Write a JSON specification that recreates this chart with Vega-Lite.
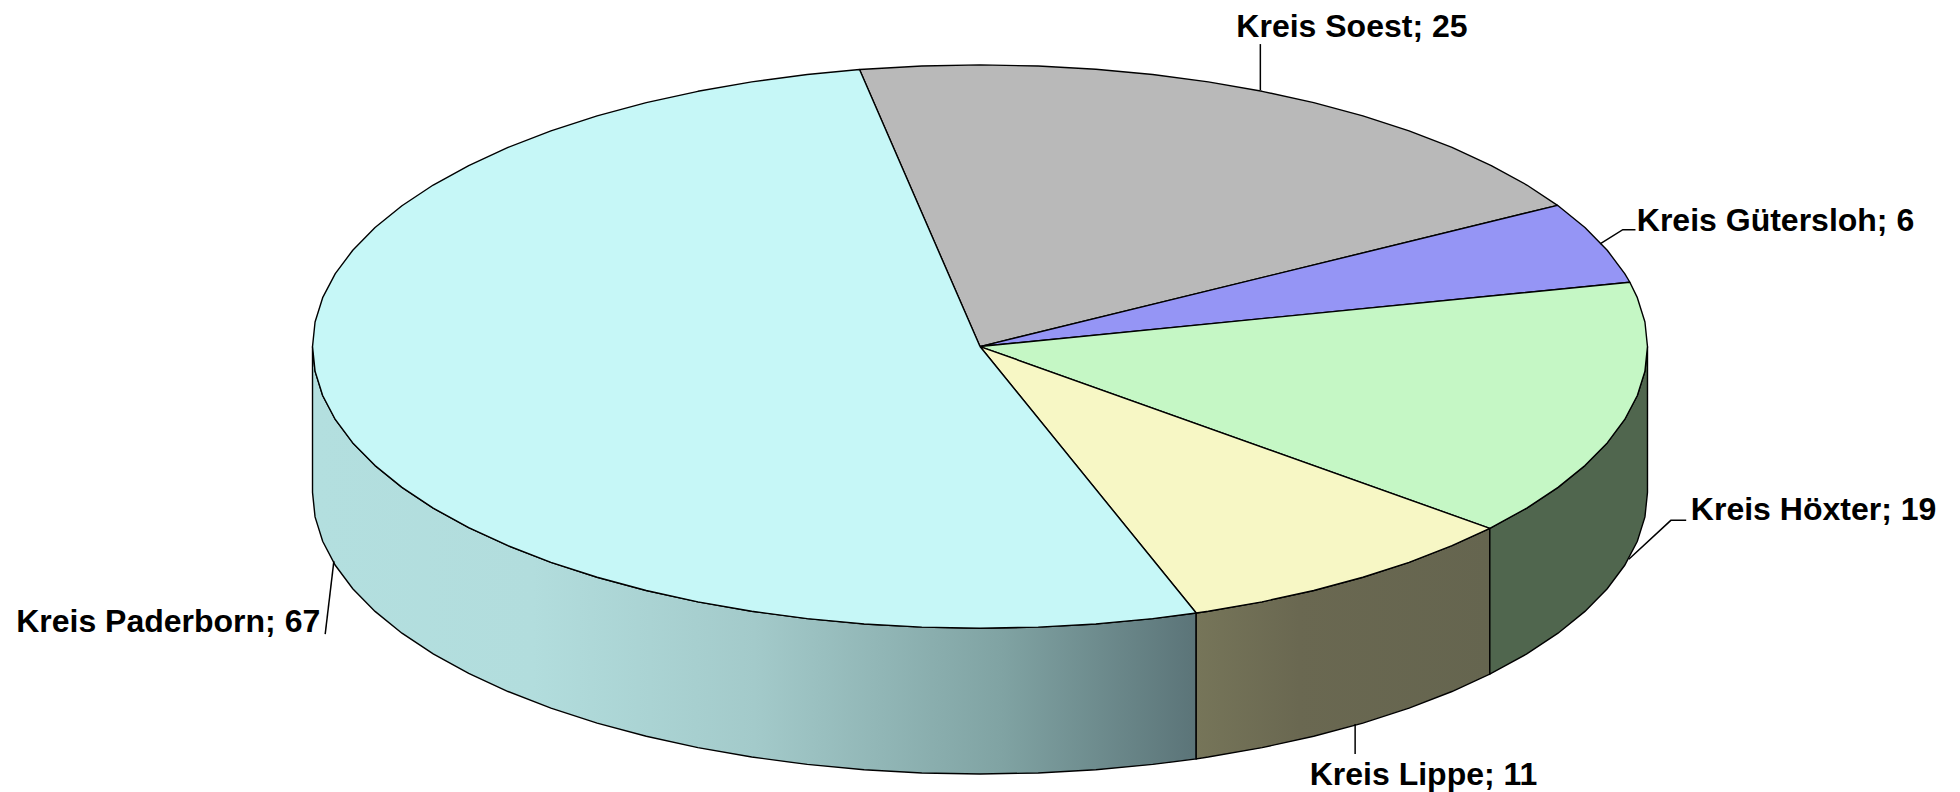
{"$schema":"https://vega.github.io/schema/vega-lite/v6.json","width":1960,"height":792,"padding":0,"autosize":{"type":"fit","contains":"padding"},"background":"white","view":{"stroke":null},
"datasets":{
"faces":[
{"s":"Kreis Soest","o":0,"u":0,"v":0},{"s":"Kreis Soest","o":1,"u":-0.1805,"v":0.9836},{"s":"Kreis Soest","o":2,"u":-0.1736,"v":0.9848},{"s":"Kreis Soest","o":3,"u":-0.0872,"v":0.9962},{"s":"Kreis Soest","o":4,"u":0,"v":1},{"s":"Kreis Soest","o":5,"u":0.0872,"v":0.9962},{"s":"Kreis Soest","o":6,"u":0.1736,"v":0.9848},{"s":"Kreis Soest","o":7,"u":0.2588,"v":0.9659},{"s":"Kreis Soest","o":8,"u":0.342,"v":0.9397},{"s":"Kreis Soest","o":9,"u":0.4226,"v":0.9063},{"s":"Kreis Soest","o":10,"u":0.5,"v":0.866},{"s":"Kreis Soest","o":11,"u":0.5736,"v":0.8192},{"s":"Kreis Soest","o":12,"u":0.6428,"v":0.766},{"s":"Kreis Soest","o":13,"u":0.7071,"v":0.7071},{"s":"Kreis Soest","o":14,"u":0.766,"v":0.6428},{"s":"Kreis Soest","o":15,"u":0.8192,"v":0.5736},{"s":"Kreis Soest","o":16,"u":0.8652,"v":0.5015},{"s":"Kreis Soest","o":17,"u":0,"v":0},
{"s":"Kreis Gütersloh","o":0,"u":0,"v":0},{"s":"Kreis Gütersloh","o":1,"u":0.8652,"v":0.5015},{"s":"Kreis Gütersloh","o":2,"u":0.9063,"v":0.4226},{"s":"Kreis Gütersloh","o":3,"u":0.9397,"v":0.342},{"s":"Kreis Gütersloh","o":4,"u":0.9659,"v":0.2588},{"s":"Kreis Gütersloh","o":5,"u":0.9736,"v":0.2284},{"s":"Kreis Gütersloh","o":6,"u":0,"v":0},
{"s":"Kreis Höxter","o":0,"u":0,"v":0},{"s":"Kreis Höxter","o":1,"u":0.9736,"v":0.2284},{"s":"Kreis Höxter","o":2,"u":0.9848,"v":0.1736},{"s":"Kreis Höxter","o":3,"u":0.9962,"v":0.0872},{"s":"Kreis Höxter","o":4,"u":1,"v":0},{"s":"Kreis Höxter","o":5,"u":0.9962,"v":-0.0872},{"s":"Kreis Höxter","o":6,"u":0.9848,"v":-0.1736},{"s":"Kreis Höxter","o":7,"u":0.9659,"v":-0.2588},{"s":"Kreis Höxter","o":8,"u":0.9397,"v":-0.342},{"s":"Kreis Höxter","o":9,"u":0.9063,"v":-0.4226},{"s":"Kreis Höxter","o":10,"u":0.866,"v":-0.5},{"s":"Kreis Höxter","o":11,"u":0.8192,"v":-0.5736},{"s":"Kreis Höxter","o":12,"u":0.7638,"v":-0.6455},{"s":"Kreis Höxter","o":13,"u":0,"v":0},
{"s":"Kreis Lippe","o":0,"u":0,"v":0},{"s":"Kreis Lippe","o":1,"u":0.7638,"v":-0.6455},{"s":"Kreis Lippe","o":2,"u":0.7071,"v":-0.7071},{"s":"Kreis Lippe","o":3,"u":0.6428,"v":-0.766},{"s":"Kreis Lippe","o":4,"u":0.5736,"v":-0.8192},{"s":"Kreis Lippe","o":5,"u":0.5,"v":-0.866},{"s":"Kreis Lippe","o":6,"u":0.4226,"v":-0.9063},{"s":"Kreis Lippe","o":7,"u":0.342,"v":-0.9397},{"s":"Kreis Lippe","o":8,"u":0.3239,"v":-0.9461},{"s":"Kreis Lippe","o":9,"u":0,"v":0},
{"s":"Kreis Paderborn","o":0,"u":0,"v":0},{"s":"Kreis Paderborn","o":1,"u":0.3239,"v":-0.9461},{"s":"Kreis Paderborn","o":2,"u":0.2588,"v":-0.9659},{"s":"Kreis Paderborn","o":3,"u":0.1736,"v":-0.9848},{"s":"Kreis Paderborn","o":4,"u":0.0872,"v":-0.9962},{"s":"Kreis Paderborn","o":5,"u":0,"v":-1},{"s":"Kreis Paderborn","o":6,"u":-0.0872,"v":-0.9962},{"s":"Kreis Paderborn","o":7,"u":-0.1736,"v":-0.9848},{"s":"Kreis Paderborn","o":8,"u":-0.2588,"v":-0.9659},{"s":"Kreis Paderborn","o":9,"u":-0.342,"v":-0.9397},{"s":"Kreis Paderborn","o":10,"u":-0.4226,"v":-0.9063},{"s":"Kreis Paderborn","o":11,"u":-0.5,"v":-0.866},{"s":"Kreis Paderborn","o":12,"u":-0.5736,"v":-0.8192},{"s":"Kreis Paderborn","o":13,"u":-0.6428,"v":-0.766},{"s":"Kreis Paderborn","o":14,"u":-0.7071,"v":-0.7071},{"s":"Kreis Paderborn","o":15,"u":-0.766,"v":-0.6428},{"s":"Kreis Paderborn","o":16,"u":-0.8192,"v":-0.5736},{"s":"Kreis Paderborn","o":17,"u":-0.866,"v":-0.5},{"s":"Kreis Paderborn","o":18,"u":-0.9063,"v":-0.4226},{"s":"Kreis Paderborn","o":19,"u":-0.9397,"v":-0.342},{"s":"Kreis Paderborn","o":20,"u":-0.9659,"v":-0.2588},{"s":"Kreis Paderborn","o":21,"u":-0.9848,"v":-0.1736},{"s":"Kreis Paderborn","o":22,"u":-0.9962,"v":-0.0872},{"s":"Kreis Paderborn","o":23,"u":-1,"v":0},{"s":"Kreis Paderborn","o":24,"u":-0.9962,"v":0.0872},{"s":"Kreis Paderborn","o":25,"u":-0.9848,"v":0.1736},{"s":"Kreis Paderborn","o":26,"u":-0.9659,"v":0.2588},{"s":"Kreis Paderborn","o":27,"u":-0.9397,"v":0.342},{"s":"Kreis Paderborn","o":28,"u":-0.9063,"v":0.4226},{"s":"Kreis Paderborn","o":29,"u":-0.866,"v":0.5},{"s":"Kreis Paderborn","o":30,"u":-0.8192,"v":0.5736},{"s":"Kreis Paderborn","o":31,"u":-0.766,"v":0.6428},{"s":"Kreis Paderborn","o":32,"u":-0.7071,"v":0.7071},{"s":"Kreis Paderborn","o":33,"u":-0.6428,"v":0.766},{"s":"Kreis Paderborn","o":34,"u":-0.5736,"v":0.8192},{"s":"Kreis Paderborn","o":35,"u":-0.5,"v":0.866},{"s":"Kreis Paderborn","o":36,"u":-0.4226,"v":0.9063},{"s":"Kreis Paderborn","o":37,"u":-0.342,"v":0.9397},{"s":"Kreis Paderborn","o":38,"u":-0.2588,"v":0.9659},{"s":"Kreis Paderborn","o":39,"u":-0.1805,"v":0.9836},{"s":"Kreis Paderborn","o":40,"u":0,"v":0}
],
"wallP":[{"u":-1,"v":0,"b":-0.5177},{"u":-0.9962,"v":-0.0872,"b":-0.6049},{"u":-0.9848,"v":-0.1736,"b":-0.6913},{"u":-0.9659,"v":-0.2588,"b":-0.7765},{"u":-0.9397,"v":-0.342,"b":-0.8597},{"u":-0.9063,"v":-0.4226,"b":-0.9403},{"u":-0.866,"v":-0.5,"b":-1.0177},{"u":-0.8192,"v":-0.5736,"b":-1.0913},{"u":-0.766,"v":-0.6428,"b":-1.1605},{"u":-0.7071,"v":-0.7071,"b":-1.2248},{"u":-0.6428,"v":-0.766,"b":-1.2837},{"u":-0.5736,"v":-0.8192,"b":-1.3369},{"u":-0.5,"v":-0.866,"b":-1.3837},{"u":-0.4226,"v":-0.9063,"b":-1.424},{"u":-0.342,"v":-0.9397,"b":-1.4574},{"u":-0.2588,"v":-0.9659,"b":-1.4836},{"u":-0.1736,"v":-0.9848,"b":-1.5025},{"u":-0.0872,"v":-0.9962,"b":-1.5139},{"u":0,"v":-1,"b":-1.5177},{"u":0.0872,"v":-0.9962,"b":-1.5139},{"u":0.1736,"v":-0.9848,"b":-1.5025},{"u":0.2588,"v":-0.9659,"b":-1.4836},{"u":0.3239,"v":-0.9461,"b":-1.4638}],
"wallL":[{"u":0.3239,"v":-0.9461,"b":-1.4638},{"u":0.342,"v":-0.9397,"b":-1.4574},{"u":0.4226,"v":-0.9063,"b":-1.424},{"u":0.5,"v":-0.866,"b":-1.3837},{"u":0.5736,"v":-0.8192,"b":-1.3369},{"u":0.6428,"v":-0.766,"b":-1.2837},{"u":0.7071,"v":-0.7071,"b":-1.2248},{"u":0.7638,"v":-0.6455,"b":-1.1632}],
"wallH":[{"u":0.7638,"v":-0.6455,"b":-1.1632},{"u":0.8192,"v":-0.5736,"b":-1.0913},{"u":0.866,"v":-0.5,"b":-1.0177},{"u":0.9063,"v":-0.4226,"b":-0.9403},{"u":0.9397,"v":-0.342,"b":-0.8597},{"u":0.9659,"v":-0.2588,"b":-0.7765},{"u":0.9848,"v":-0.1736,"b":-0.6913},{"u":0.9962,"v":-0.0872,"b":-0.6049},{"u":1,"v":0,"b":-0.5177}],
"leaders":[
{"s":"Kreis Soest","o":0,"u":0.42,"v":1.074},{"s":"Kreis Soest","o":1,"u":0.42,"v":0.911},
{"s":"Kreis Gütersloh","o":0,"u":0.929,"v":0.365},{"s":"Kreis Gütersloh","o":1,"u":0.963,"v":0.415},{"s":"Kreis Gütersloh","o":2,"u":0.982,"v":0.415},
{"s":"Kreis Höxter","o":0,"u":0.972,"v":-0.755},{"s":"Kreis Höxter","o":1,"u":1.035,"v":-0.617},{"s":"Kreis Höxter","o":2,"u":1.058,"v":-0.617},
{"s":"Kreis Lippe","o":0,"u":0.562,"v":-1.34},{"s":"Kreis Lippe","o":1,"u":0.562,"v":-1.447},
{"s":"Kreis Paderborn","o":0,"u":-0.968,"v":-0.762},{"s":"Kreis Paderborn","o":1,"u":-0.981,"v":-1.021}],
"labels":[
{"s":"Kreis Soest","n":25,"t":"Kreis Soest; 25","u":0.384,"v":1.134},
{"s":"Kreis Gütersloh","n":6,"t":"Kreis Gütersloh; 6","u":0.984,"v":0.446},
{"s":"Kreis Höxter","n":19,"t":"Kreis Höxter; 19","u":1.065,"v":-0.582},
{"s":"Kreis Lippe","n":11,"t":"Kreis Lippe; 11","u":0.494,"v":-1.522},
{"s":"Kreis Paderborn","n":67,"t":"Kreis Paderborn; 67","u":-1.444,"v":-0.979}]
},
"encoding":{
"x":{"field":"u","type":"quantitative","axis":null,"scale":{"domain":[-1.4682,1.4682],"nice":false,"zero":false}},
"y":{"field":"v","type":"quantitative","axis":null,"scale":{"domain":[-1.578,1.2305],"nice":false,"zero":false}}
},
"layer":[
{"data":{"name":"wallP"},"mark":{"type":"area","clip":false,"stroke":"#000000","strokeWidth":1.4,"fill":{"gradient":"linear","x1":0,"y1":0,"x2":1,"y2":0,"stops":[{"offset":0,"color":"#b3dfdf"},{"offset":0.25,"color":"#b2dddd"},{"offset":0.5,"color":"#a3caca"},{"offset":0.78,"color":"#80a3a3"},{"offset":1,"color":"#5b7478"}]}},"encoding":{"y2":{"field":"b"}}},
{"data":{"name":"wallL"},"mark":{"type":"area","clip":false,"stroke":"#000000","strokeWidth":1.4,"fill":{"gradient":"linear","x1":0,"y1":0,"x2":1,"y2":0,"stops":[{"offset":0,"color":"#767559"},{"offset":0.35,"color":"#6a6851"},{"offset":1,"color":"#65654f"}]}},"encoding":{"y2":{"field":"b"}}},
{"data":{"name":"wallH"},"mark":{"type":"area","clip":false,"stroke":"#000000","strokeWidth":1.4,"fill":"#50664e"},"encoding":{"y2":{"field":"b"}}},
{"data":{"name":"faces"},"mark":{"type":"line","stroke":"#000000","strokeWidth":1.4,"strokeJoin":"round"},"encoding":{"order":{"field":"o","type":"quantitative"},"detail":{"field":"s"},"fill":{"field":"s","type":"nominal","legend":null,"scale":{"domain":["Kreis Paderborn","Kreis Soest","Kreis Gütersloh","Kreis Höxter","Kreis Lippe"],"range":["#c6f7f7","#b9b9b9","#9595f5","#c5f7c5","#f7f7c5"]}}}},
{"data":{"name":"leaders"},"mark":{"type":"line","stroke":"#000000","strokeWidth":1.5},"encoding":{"order":{"field":"o","type":"quantitative"},"detail":{"field":"s"}}},
{"data":{"name":"labels"},"mark":{"type":"text","align":"left","baseline":"middle","font":"Liberation Sans","fontWeight":"bold","fontSize":32,"fill":"#000000"},"encoding":{"text":{"field":"t"}}}
]}
